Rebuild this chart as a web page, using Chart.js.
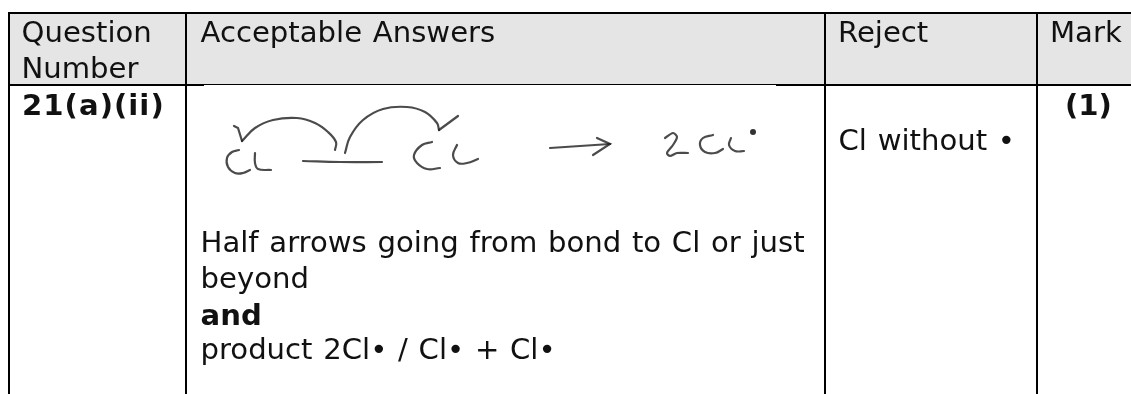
<!doctype html>
<html lang="en">
  <head>
    <title>Mark scheme 21(a)(ii)</title>
    <style>
      html, body { margin: 0; background: #fff; }
      canvas { display: block; }
    </style>
    <script src="https://cdn.jsdelivr.net/npm/chart.js@4"></script>
  </head>
  <body>
    <canvas id="myChart" width="1131" height="394"></canvas>
    <script>
      const headerQuestion = ['Question', 'Number'];
      const headerAnswers = 'Acceptable Answers';
      const headerReject = 'Reject';
      const headerMark = 'Mark';
      const questionId = '21(a)(ii)';
      const answerLines = ['Half arrows going from bond to Cl or just', 'beyond', 'and', 'product 2Cl• / Cl• + Cl•'];
      const rejectText = 'Cl without •';
      const markText = '(1)';

      // table rules, in page units of the hidden axes
      const columnEdges = [9, 186, 825, 1037];
      const tableLeft = 9, tableRight = 1131, tableBottom = 394;
      const headerTop = 13, headerBottom = 85;

      // handwritten equation
      const leftCX = [239, 232, 227, 228, 235, 243, 250];
      const leftCY = [150, 152, 158, 167, 173, 173, 170];
      const leftLX = [255, 255, 258, 271];
      const leftLY = [153, 163, 169, 170];
      const leftArrowX = [335, 336, 328, 315, 297, 273, 255, 242];
      const leftArrowY = [150, 142, 132, 123, 118, 120, 128, 141];
      const leftBarbX = [242, 238, 234];
      const leftBarbY = [141, 128, 126];
      const bondX = [303, 340, 382];
      const bondY = [161, 162, 162];
      const rightArrowX = [345, 350, 363, 383, 407, 425, 437, 439];
      const rightArrowY = [153, 137, 120, 109, 107, 112, 123, 130];
      const rightBarbX = [439, 458];
      const rightBarbY = [130, 116];
      const rightCX = [432, 422, 414, 417, 427, 440];
      const rightCY = [142, 145, 155, 163, 169, 168];
      const rightLX = [457, 453, 458, 467, 478];
      const rightLY = [145, 155, 163, 163, 159];
      const shaftX = [550, 580, 610];
      const shaftY = [148, 146, 144];
      const headX = [597, 610, 593];
      const headY = [138, 144, 155];
      const twoX = [665, 673, 677, 673, 667, 670, 677, 688];
      const twoY = [138, 133, 137, 145, 153, 156, 153, 153];
      const prodCX = [713, 703, 700, 705, 715, 723];
      const prodCY = [135, 138, 145, 152, 153, 149];
      const prodLX = [731, 729, 735, 744];
      const prodLY = [138, 145, 151, 151];
      const radicalX = [753];
      const radicalY = [132];

      const zip = (xs, ys) => xs.map((x, i) => ({ x, y: ys[i] }));

      const rule = (xs, ys, width) => ({
        data: zip(xs, ys),
        borderColor: '#000',
        borderWidth: width,
        pointRadius: 0,
        tension: 0
      });

      const pen = (xs, ys, tension = 0.4) => ({
        data: zip(xs, ys),
        borderColor: 'rgba(30,30,30,0.8)',
        borderWidth: 2.2,
        pointRadius: 0,
        tension,
        borderCapStyle: 'round'
      });

      // draws the cell text at positions taken from the scales.
      // The scan is set in Verdana, so DejaVu gets stretched a bit to match its width
      const cellText = {
        id: 'cellText',
        afterDatasetsDraw(chart) {
          const { ctx, scales: { x, y } } = chart;
          const put = (text, px, py, bold, spacing = 0) => {
            ctx.save();
            ctx.translate(x.getPixelForValue(px), y.getPixelForValue(py));
            ctx.scale(1.04, 1);
            ctx.font = (bold ? 'bold ' : '') + '28px "DejaVu Sans"';
            ctx.letterSpacing = spacing + 'px';
            ctx.wordSpacing = '1.4px';
            ctx.fillText(text, 0, 0);
            ctx.restore();
          };
          const answerRows = [252, 288, 325, 358.5];
          ctx.save();
          ctx.fillStyle = '#111';
          ctx.textBaseline = 'alphabetic';
          put(headerQuestion[0], 21.5, 42, false);
          put(headerQuestion[1], 21.5, 78, false);
          put(headerAnswers, columnEdges[1] + 14.5, 42, false);
          put(headerReject, columnEdges[2] + 13, 42, false);
          put(headerMark, columnEdges[3] + 13, 42, false);
          put(questionId, 22, 115, true, 1);
          answerLines.forEach((line, i) => {
            put(line, columnEdges[1] + 14.5, answerRows[i], line === 'and');
          });
          put(rejectText, columnEdges[2] + 13.5, 150, false);
          put(markText, 1065, 115, true);
          ctx.restore();
        }
      };

      new Chart(document.getElementById('myChart'), {
        type: 'line',
        data: {
          datasets: [
            // header band, filled between its top and bottom edges; order 1 keeps it under the rules
            { data: zip([tableLeft, tableRight], [headerTop, headerTop]), borderWidth: 0, pointRadius: 0, fill: '+1', backgroundColor: '#e5e5e5', order: 1 },
            { data: zip([tableLeft, tableRight], [headerBottom, headerBottom]), borderWidth: 0, pointRadius: 0, order: 1 },
            rule([tableLeft - 1, tableRight], [headerTop, headerTop], 2),
            rule([tableLeft, 204], [headerBottom, headerBottom], 2),
            rule([204, 776], [headerBottom - 0.5, headerBottom - 0.5], 1),
            rule([776, tableRight], [headerBottom, headerBottom], 2),
            ...columnEdges.map(edge => rule([edge, edge], [headerTop, tableBottom], 2)),
            pen(leftCX, leftCY),
            pen(leftLX, leftLY),
            pen(leftArrowX, leftArrowY),
            pen(leftBarbX, leftBarbY, 0),
            pen(bondX, bondY),
            pen(rightArrowX, rightArrowY),
            pen(rightBarbX, rightBarbY, 0),
            pen(rightCX, rightCY),
            pen(rightLX, rightLY),
            pen(shaftX, shaftY),
            pen(headX, headY, 0),
            pen(twoX, twoY, 0.3),
            pen(prodCX, prodCY),
            pen(prodLX, prodLY),
            { data: zip(radicalX, radicalY), showLine: false, pointRadius: 3, pointBackgroundColor: '#333', pointBorderWidth: 0 }
          ]
        },
        options: {
          responsive: false,
          animation: false,
          parsing: false,
          layout: { padding: 0, autoPadding: false },
          plugins: { legend: { display: false }, tooltip: { enabled: false } },
          scales: {
            x: { type: 'linear', display: false, min: 0, max: 1131 },
            y: { type: 'linear', display: false, min: 0, max: 394, reverse: true }
          }
        },
        plugins: [cellText]
      });
    </script>
  </body>
</html>
